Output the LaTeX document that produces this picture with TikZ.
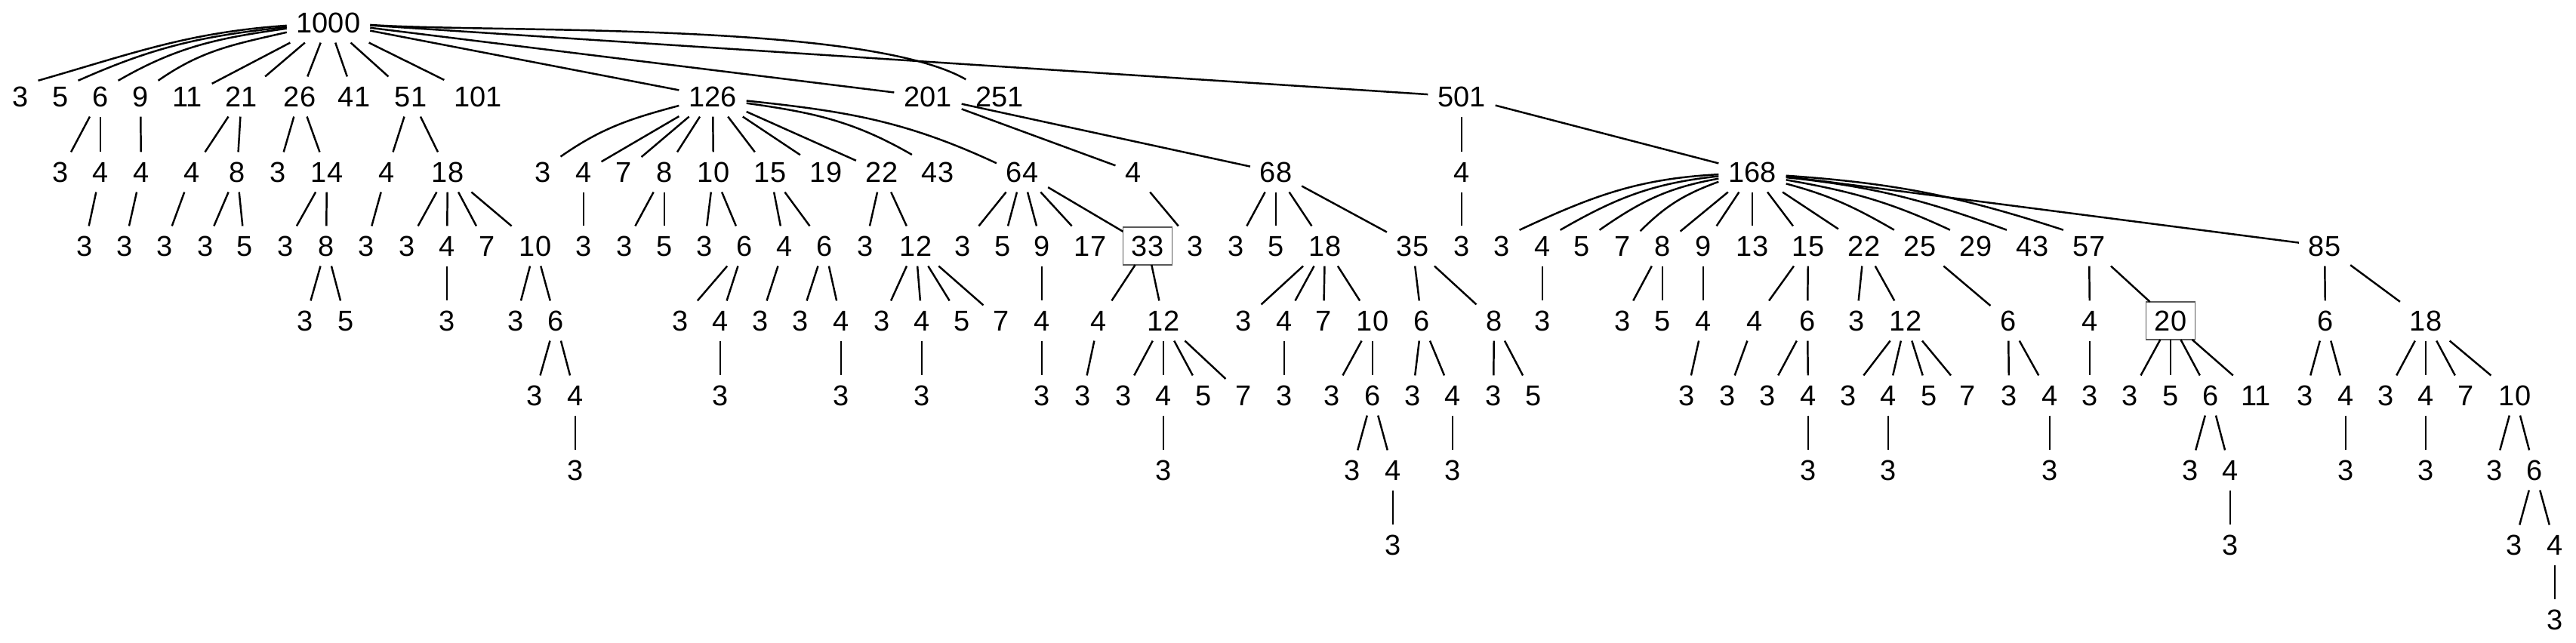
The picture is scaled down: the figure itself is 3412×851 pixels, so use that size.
\documentclass[tikz,border=0pt]{standalone}
\usepackage{fontspec}
\setmainfont{Liberation Sans}

\begin{document}
\begin{tikzpicture}[x=0.01cm,y=-0.01cm,line width=0.7pt,
	font=\fontsize{10.8pt}{13pt}\selectfont,
	every node/.style={inner sep=0.13cm,outer sep=0pt,text height=7.7pt,text depth=0pt},
	framed/.style={draw=black!65,line width=0.35pt,inner sep=0.115cm}]

			\useasboundingbox (0,0) rectangle (3412,851);

			% level 0 and 1
			\node (top) at (435,30) {1000};
			\node (n3) at (27,128) {3};
			\node (n5) at (80,128) {5};
			\node (n6) at (133,128) {6};
			\node (n9) at (186,128) {9};
			\node (n11) at (248,128) {11};
			\node (n21) at (320,128) {21};
			\node (n26) at (397,128) {26};
			\node (n41) at (469,128) {41};
			\node (n51) at (544,128) {51};
			\node (n101) at (633,128) {101};
			\node (n126) at (944,128) {126};
			\node (n201) at (1229,128) {201};
			\node (n251) at (1324,128) {251};
			\node (n501) at (1936,128) {501};

			% level 2
			\node (n6-3) at (80,228) {3};
			\node (n6-4) at (133,228) {4};
			\node (n9-4) at (187,228) {4};
			\node (n21-4) at (254,228) {4};
			\node (n21-8) at (314,228) {8};
			\node (n26-3) at (368,228) {3};
			\node (n26-14) at (433,228) {14};
			\node (n51-4) at (512,228) {4};
			\node (n51-18) at (593,228) {18};
			\node (n126-3) at (719,228) {3};
			\node (n126-4) at (773,228) {4};
			\node (n126-7) at (826,228) {7};
			\node (n126-8) at (880,228) {8};
			\node (n126-10) at (945,228) {10};
			\node (n126-15) at (1020,228) {15};
			\node (n126-19) at (1094,228) {19};
			\node (n126-22) at (1168,228) {22};
			\node (n126-43) at (1242,228) {43};
			\node (n64) at (1354,228) {64};
			\node (n201-4) at (1501,228) {4};
			\node (n68) at (1690,228) {68};
			\node (n501-4) at (1936,228) {4};
			\node (n168) at (2321,228) {168};

			% level 3
			\node (n6-4-3) at (112,326) {3};
			\node (n9-4-3) at (165,326) {3};
			\node (n21-4-3) at (218,326) {3};
			\node (n21-8-3) at (272,326) {3};
			\node (n21-8-5) at (324,326) {5};
			\node (n26-14-3) at (378,326) {3};
			\node (n26-14-8) at (432,326) {8};
			\node (n51-4-3) at (485,326) {3};
			\node (n51-18-3) at (539,326) {3};
			\node (n51-18-4) at (592,326) {4};
			\node (n51-18-7) at (645,326) {7};
			\node (n51-18-10) at (709,326) {10};
			\node (n126-4-3) at (773,326) {3};
			\node (n126-8-3) at (827,326) {3};
			\node (n126-8-5) at (880,326) {5};
			\node (n126-10-3) at (933,326) {3};
			\node (n126-10-6) at (986,326) {6};
			\node (n126-15-4) at (1039,326) {4};
			\node (n126-15-6) at (1092,326) {6};
			\node (n126-22-3) at (1146,326) {3};
			\node (n126-22-12) at (1213,326) {12};
			\node (n64-3) at (1275,326) {3};
			\node (n64-5) at (1328,326) {5};
			\node (n64-9) at (1380,326) {9};
			\node (n64-17) at (1444,326) {17};
			\node[framed] (n33) at (1520,326) {33};
			\node (n201-4-3) at (1583,326) {3};
			\node (n68-3) at (1637,326) {3};
			\node (n68-5) at (1690,326) {5};
			\node (n68-18) at (1755,326) {18};
			\node (n68-35) at (1871,326) {35};
			\node (n501-4-3) at (1936,326) {3};
			\node (n168-3) at (1989,326) {3};
			\node (n168-4) at (2043,326) {4};
			\node (n168-5) at (2095,326) {5};
			\node (n168-7) at (2149,326) {7};
			\node (n168-8) at (2202,326) {8};
			\node (n168-9) at (2256,326) {9};
			\node (n168-13) at (2321,326) {13};
			\node (n168-15) at (2395,326) {15};
			\node (n168-22) at (2469,326) {22};
			\node (n168-25) at (2543,326) {25};
			\node (n168-29) at (2617,326) {29};
			\node (n168-43) at (2692,326) {43};
			\node (n168-57) at (2767,326) {57};
			\node (n85) at (3079,326) {85};

			% level 4
			\node (n26-14-8-3) at (404,425) {3};
			\node (n26-14-8-5) at (458,425) {5};
			\node (n51-18-4-3) at (592,425) {3};
			\node (n51-18-10-3) at (683,425) {3};
			\node (n51-18-10-6) at (736,425) {6};
			\node (n126-10-6-3) at (901,425) {3};
			\node (n126-10-6-4) at (954,425) {4};
			\node (n126-15-4-3) at (1007,425) {3};
			\node (n126-15-6-3) at (1060,425) {3};
			\node (n126-15-6-4) at (1114,425) {4};
			\node (n126-22-12-3) at (1168,425) {3};
			\node (n126-22-12-4) at (1221,425) {4};
			\node (n126-22-12-5) at (1274,425) {5};
			\node (n126-22-12-7) at (1326,425) {7};
			\node (n64-9-4) at (1380,425) {4};
			\node (n33-4) at (1455,425) {4};
			\node (n33-12) at (1541,425) {12};
			\node (n68-18-3) at (1647,425) {3};
			\node (n68-18-4) at (1701,425) {4};
			\node (n68-18-7) at (1753,425) {7};
			\node (n68-18-10) at (1818,425) {10};
			\node (n68-35-6) at (1883,425) {6};
			\node (n68-35-8) at (1979,425) {8};
			\node (n168-4-3) at (2043,425) {3};
			\node (n168-8-3) at (2149,425) {3};
			\node (n168-8-5) at (2202,425) {5};
			\node (n168-9-4) at (2256,425) {4};
			\node (n168-15-4) at (2324,425) {4};
			\node (n168-15-6) at (2394,425) {6};
			\node (n168-22-3) at (2459,425) {3};
			\node (n168-22-12) at (2524,425) {12};
			\node (n168-25-6) at (2660,425) {6};
			\node (n168-57-4) at (2768,425) {4};
			\node[framed] (n20) at (2875,425) {20};
			\node (n85-6) at (3080,425) {6};
			\node (n85-18) at (3213,425) {18};

			% level 5
			\node (n51-18-10-6-3) at (708,524) {3};
			\node (n51-18-10-6-4) at (762,524) {4};
			\node (n126-10-6-4-3) at (954,524) {3};
			\node (n126-15-6-4-3) at (1114,524) {3};
			\node (n126-22-12-4-3) at (1221,524) {3};
			\node (n64-9-4-3) at (1380,524) {3};
			\node (n33-4-3) at (1434,524) {3};
			\node (n33-12-3) at (1488,524) {3};
			\node (n33-12-4) at (1541,524) {4};
			\node (n33-12-5) at (1594,524) {5};
			\node (n33-12-7) at (1647,524) {7};
			\node (n68-18-4-3) at (1701,524) {3};
			\node (n68-18-10-3) at (1764,524) {3};
			\node (n68-18-10-6) at (1818,524) {6};
			\node (n68-35-6-3) at (1871,524) {3};
			\node (n68-35-6-4) at (1924,524) {4};
			\node (n68-35-8-3) at (1978,524) {3};
			\node (n68-35-8-5) at (2031,524) {5};
			\node (n168-9-4-3) at (2234,524) {3};
			\node (n168-15-4-3) at (2288,524) {3};
			\node (n168-15-6-3) at (2341,524) {3};
			\node (n168-15-6-4) at (2395,524) {4};
			\node (n168-22-12-3) at (2448,524) {3};
			\node (n168-22-12-4) at (2501,524) {4};
			\node (n168-22-12-5) at (2555,524) {5};
			\node (n168-22-12-7) at (2606,524) {7};
			\node (n168-25-6-3) at (2661,524) {3};
			\node (n168-25-6-4) at (2715,524) {4};
			\node (n168-57-4-3) at (2768,524) {3};
			\node (n20-3) at (2821,524) {3};
			\node (n20-5) at (2875,524) {5};
			\node (n20-6) at (2928,524) {6};
			\node (n20-11) at (2988,524) {11};
			\node (n85-6-3) at (3053,524) {3};
			\node (n85-6-4) at (3107,524) {4};
			\node (n85-18-3) at (3160,524) {3};
			\node (n85-18-4) at (3213,524) {4};
			\node (n85-18-7) at (3266,524) {7};
			\node (n85-18-10) at (3331,524) {10};

			% level 6 to 8
			\node (n51-18-10-6-4-3) at (762,623) {3};
			\node (n33-12-4-3) at (1541,623) {3};
			\node (n68-18-10-6-3) at (1791,623) {3};
			\node (n68-18-10-6-4) at (1845,623) {4};
			\node (n68-35-6-4-3) at (1924,623) {3};
			\node (n168-15-6-4-3) at (2395,623) {3};
			\node (n168-22-12-4-3) at (2501,623) {3};
			\node (n168-25-6-4-3) at (2715,623) {3};
			\node (n20-6-3) at (2901,623) {3};
			\node (n20-6-4) at (2954,623) {4};
			\node (n85-6-4-3) at (3107,623) {3};
			\node (n85-18-4-3) at (3213,623) {3};
			\node (n85-18-10-3) at (3304,623) {3};
			\node (n85-18-10-6) at (3357,623) {6};
			\node (n68-18-10-6-4-3) at (1845,722) {3};
			\node (n20-6-4-3) at (2954,722) {3};
			\node (n85-18-10-6-3) at (3330,722) {3};
			\node (n85-18-10-6-4) at (3384,722) {4};
			\node (n85-18-10-6-4-3) at (3384,821) {3};

			% edges from the root
			\draw (top.184) to [out=184, in=16] (n3.42);
			\draw (top.186) to [out=186, in=24] (n5.42);
			\draw (top.188) to [out=188, in=30] (n6.42);
			\draw (top.193) to [out=193, in=35] (n9.42);
			\draw (top) -- (n11);
			\draw (top) -- (n21);
			\draw (top) -- (n26);
			\draw (top) -- (n41);
			\draw (top) -- (n51);
			\draw (top) -- (n101);
			\draw (top) -- (n126);
			\draw (top) -- (n201);
			\draw (top.357) to [out=-4, in=150, looseness=0.5] (n251.153);
			\draw (top) -- (n501);

			% left part
			\draw (n6) -- (n6-3);
			\draw (n6) -- (n6-4);
			\draw (n6-4) -- (n6-4-3);
			\draw (n9) -- (n9-4);
			\draw (n9-4) -- (n9-4-3);
			\draw (n21) -- (n21-4);
			\draw (n21) -- (n21-8);
			\draw (n21-4) -- (n21-4-3);
			\draw (n21-8) -- (n21-8-3);
			\draw (n21-8) -- (n21-8-5);
			\draw (n26) -- (n26-3);
			\draw (n26) -- (n26-14);
			\draw (n26-14) -- (n26-14-3);
			\draw (n26-14) -- (n26-14-8);
			\draw (n26-14-8) -- (n26-14-8-3);
			\draw (n26-14-8) -- (n26-14-8-5);
			\draw (n51) -- (n51-4);
			\draw (n51) -- (n51-18);
			\draw (n51-4) -- (n51-4-3);
			\draw (n51-18) -- (n51-18-3);
			\draw (n51-18) -- (n51-18-4);
			\draw (n51-18) -- (n51-18-7);
			\draw (n51-18) -- (n51-18-10);
			\draw (n51-18-4) -- (n51-18-4-3);
			\draw (n51-18-10) -- (n51-18-10-3);
			\draw (n51-18-10) -- (n51-18-10-6);
			\draw (n51-18-10-6) -- (n51-18-10-6-3);
			\draw (n51-18-10-6) -- (n51-18-10-6-4);
			\draw (n51-18-10-6-4) -- (n51-18-10-6-4-3);

			% under 126
			\draw (n126.195) to [out=195, in=35] (n126-3.41);
			\draw (n126) -- (n126-4);
			\draw (n126) -- (n126-7);
			\draw (n126) -- (n126-8);
			\draw (n126) -- (n126-10);
			\draw (n126) -- (n126-15);
			\draw (n126) -- (n126-19);
			\draw (n126) -- (n126-22);
			\draw (n126.349) to [out=-8, in=150] (n126-43.146);
			\draw (n126.353) to [out=-6, in=155] (n64.161);
			\draw (n126-4) -- (n126-4-3);
			\draw (n126-8) -- (n126-8-3);
			\draw (n126-8) -- (n126-8-5);
			\draw (n126-10) -- (n126-10-3);
			\draw (n126-10) -- (n126-10-6);
			\draw (n126-10-6) -- (n126-10-6-3);
			\draw (n126-10-6) -- (n126-10-6-4);
			\draw (n126-10-6-4) -- (n126-10-6-4-3);
			\draw (n126-15) -- (n126-15-4);
			\draw (n126-15) -- (n126-15-6);
			\draw (n126-15-4) -- (n126-15-4-3);
			\draw (n126-15-6) -- (n126-15-6-3);
			\draw (n126-15-6) -- (n126-15-6-4);
			\draw (n126-15-6-4) -- (n126-15-6-4-3);
			\draw (n126-22) -- (n126-22-3);
			\draw (n126-22) -- (n126-22-12);
			\draw (n126-22-12) -- (n126-22-12-3);
			\draw (n126-22-12) -- (n126-22-12-4);
			\draw (n126-22-12) -- (n126-22-12-5);
			\draw (n126-22-12) -- (n126-22-12-7);
			\draw (n126-22-12-4) -- (n126-22-12-4-3);
			\draw (n64) -- (n64-3);
			\draw (n64) -- (n64-5);
			\draw (n64) -- (n64-9);
			\draw (n64) -- (n64-17);
			\draw (n64) -- (n33);
			\draw (n64-9) -- (n64-9-4);
			\draw (n64-9-4) -- (n64-9-4-3);
			\draw (n33) -- (n33-4);
			\draw (n33) -- (n33-12);
			\draw (n33-4) -- (n33-4-3);
			\draw (n33-12) -- (n33-12-3);
			\draw (n33-12) -- (n33-12-4);
			\draw (n33-12) -- (n33-12-5);
			\draw (n33-12) -- (n33-12-7);
			\draw (n33-12-4) -- (n33-12-4-3);

			% under 201
			\draw (n201) -- (n201-4);
			\draw (n201) -- (n68);
			\draw (n201-4) -- (n201-4-3);
			\draw (n68) -- (n68-3);
			\draw (n68) -- (n68-5);
			\draw (n68) -- (n68-18);
			\draw (n68) -- (n68-35);
			\draw (n68-18) -- (n68-18-3);
			\draw (n68-18) -- (n68-18-4);
			\draw (n68-18) -- (n68-18-7);
			\draw (n68-18) -- (n68-18-10);
			\draw (n68-18-4) -- (n68-18-4-3);
			\draw (n68-18-10) -- (n68-18-10-3);
			\draw (n68-18-10) -- (n68-18-10-6);
			\draw (n68-18-10-6) -- (n68-18-10-6-3);
			\draw (n68-18-10-6) -- (n68-18-10-6-4);
			\draw (n68-18-10-6-4) -- (n68-18-10-6-4-3);
			\draw (n68-35) -- (n68-35-6);
			\draw (n68-35) -- (n68-35-8);
			\draw (n68-35-6) -- (n68-35-6-3);
			\draw (n68-35-6) -- (n68-35-6-4);
			\draw (n68-35-6-4) -- (n68-35-6-4-3);
			\draw (n68-35-8) -- (n68-35-8-3);
			\draw (n68-35-8) -- (n68-35-8-5);

			% under 501
			\draw (n501) -- (n501-4);
			\draw (n501) -- (n168);
			\draw (n501-4) -- (n501-4-3);
			\draw (n168.184) to [out=183, in=25] (n168-3.42);
			\draw (n168.187) to [out=186, in=30] (n168-4.42);
			\draw (n168.191) to [out=190, in=35] (n168-5.42);
			\draw (n168.196) to [out=200, in=45] (n168-7.40);
			\draw (n168) -- (n168-8);
			\draw (n168) -- (n168-9);
			\draw (n168) -- (n168-13);
			\draw (n168) -- (n168-15);
			\draw (n168) -- (n168-22);
			\draw (n168.341) to [out=-15, in=150] (n168-25.148);
			\draw (n168.347) to [out=-10, in=155] (n168-29.148);
			\draw (n168.351) to [out=-6, in=160] (n168-43.148);
			\draw (n168.354) to [out=-4, in=162] (n168-57.148);
			\draw (n168) -- (n85);
			\draw (n168-4) -- (n168-4-3);
			\draw (n168-8) -- (n168-8-3);
			\draw (n168-8) -- (n168-8-5);
			\draw (n168-9) -- (n168-9-4);
			\draw (n168-9-4) -- (n168-9-4-3);
			\draw (n168-15) -- (n168-15-4);
			\draw (n168-15) -- (n168-15-6);
			\draw (n168-15-4) -- (n168-15-4-3);
			\draw (n168-15-6) -- (n168-15-6-3);
			\draw (n168-15-6) -- (n168-15-6-4);
			\draw (n168-15-6-4) -- (n168-15-6-4-3);
			\draw (n168-22) -- (n168-22-3);
			\draw (n168-22) -- (n168-22-12);
			\draw (n168-22-12) -- (n168-22-12-3);
			\draw (n168-22-12) -- (n168-22-12-4);
			\draw (n168-22-12) -- (n168-22-12-5);
			\draw (n168-22-12) -- (n168-22-12-7);
			\draw (n168-22-12-4) -- (n168-22-12-4-3);
			\draw (n168-25) -- (n168-25-6);
			\draw (n168-25-6) -- (n168-25-6-3);
			\draw (n168-25-6) -- (n168-25-6-4);
			\draw (n168-25-6-4) -- (n168-25-6-4-3);
			\draw (n168-57) -- (n168-57-4);
			\draw (n168-57) -- (n20);
			\draw (n168-57-4) -- (n168-57-4-3);
			\draw (n20) -- (n20-3);
			\draw (n20) -- (n20-5);
			\draw (n20) -- (n20-6);
			\draw (n20) -- (n20-11);
			\draw (n20-6) -- (n20-6-3);
			\draw (n20-6) -- (n20-6-4);
			\draw (n20-6-4) -- (n20-6-4-3);
			\draw (n85) -- (n85-6);
			\draw (n85) -- (n85-18);
			\draw (n85-6) -- (n85-6-3);
			\draw (n85-6) -- (n85-6-4);
			\draw (n85-6-4) -- (n85-6-4-3);
			\draw (n85-18) -- (n85-18-3);
			\draw (n85-18) -- (n85-18-4);
			\draw (n85-18) -- (n85-18-7);
			\draw (n85-18) -- (n85-18-10);
			\draw (n85-18-4) -- (n85-18-4-3);
			\draw (n85-18-10) -- (n85-18-10-3);
			\draw (n85-18-10) -- (n85-18-10-6);
			\draw (n85-18-10-6) -- (n85-18-10-6-3);
			\draw (n85-18-10-6) -- (n85-18-10-6-4);
			\draw (n85-18-10-6-4) -- (n85-18-10-6-4-3);

		\end{tikzpicture}
\end{document}
